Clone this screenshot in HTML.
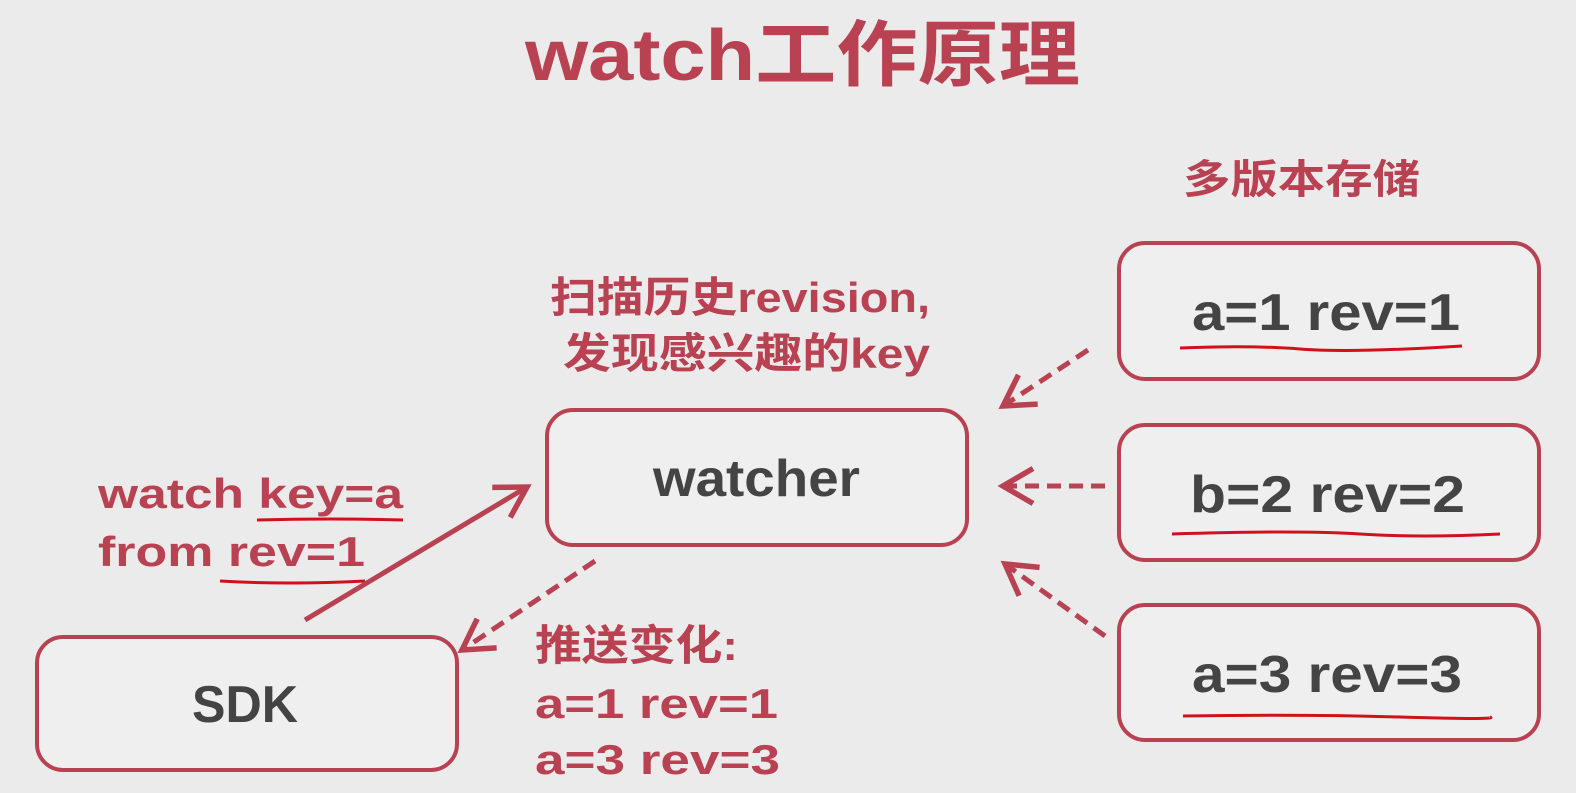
<!DOCTYPE html>
<html><head><meta charset="utf-8"><style>
html,body{margin:0;padding:0;background:#ebebeb;}
svg{display:block}
text{font-family:"Liberation Sans","Noto Sans CJK SC",sans-serif;font-weight:bold;}
</style></head><body>
<svg width="1576" height="793" viewBox="0 0 1576 793" xmlns="http://www.w3.org/2000/svg">
<defs>
<marker id="ah" markerWidth="10" markerHeight="10" refX="7" refY="5" orient="auto" markerUnits="strokeWidth">
<path d="M1,1.5 L7,5 L1,8.5" fill="none" stroke="#b94252" stroke-width="1.1"/>
</marker>
</defs>
<rect width="1576" height="793" fill="#ebebeb"/>
<text x="525" y="80" font-size="72" fill="#b94252" textLength="555" lengthAdjust="spacingAndGlyphs">watch工作原理</text>
<text x="1183" y="193" font-size="40" fill="#b94252" textLength="237" lengthAdjust="spacingAndGlyphs">多版本存储</text>
<text x="550" y="312" font-size="42" fill="#b94252" textLength="380" lengthAdjust="spacingAndGlyphs">扫描历史revision,</text>
<text x="563" y="368" font-size="42" fill="#b94252" textLength="367" lengthAdjust="spacingAndGlyphs">发现感兴趣的key</text>
<g fill="#efefef" stroke="#b94252" stroke-width="4">
<rect x="37" y="637" width="420" height="133" rx="26"/>
<rect x="547" y="410" width="420" height="135" rx="26"/>
<rect x="1119" y="243" width="420" height="136" rx="26"/>
<rect x="1119" y="425" width="420" height="135" rx="26"/>
<rect x="1119" y="605" width="420" height="135" rx="26"/>
</g>
<g fill="#444" font-size="52">
<text x="192" y="722" textLength="106" lengthAdjust="spacingAndGlyphs">SDK</text>
<text x="653" y="496" textLength="207" lengthAdjust="spacingAndGlyphs">watcher</text>
<text x="1192" y="330" textLength="268" lengthAdjust="spacingAndGlyphs">a=1 rev=1</text>
<text x="1190" y="512" textLength="275" lengthAdjust="spacingAndGlyphs">b=2 rev=2</text>
<text x="1192" y="692" textLength="270" lengthAdjust="spacingAndGlyphs">a=3 rev=3</text>
</g>
<g fill="none" stroke="#d0101c" stroke-width="3">
<path d="M1180,348 Q1250,345 1300,349 T1462,346"/>
<path d="M1172,534 Q1300,530 1360,534 T1500,534"/>
<path d="M1183,716 Q1300,714 1400,717 T1490,717"/>
<path d="M257,520 Q330,518 403,520"/>
<path d="M220,581 Q290,585 365,581"/>
</g>
<g fill="#b94252" font-size="42">
<text x="98" y="508" textLength="305" lengthAdjust="spacingAndGlyphs">watch key=a</text>
<text x="98" y="566" textLength="267" lengthAdjust="spacingAndGlyphs">from rev=1</text>
<text x="535" y="660" textLength="203" lengthAdjust="spacingAndGlyphs">推送变化:</text>
<text x="535" y="718" textLength="243" lengthAdjust="spacingAndGlyphs">a=1 rev=1</text>
<text x="535" y="774" textLength="245" lengthAdjust="spacingAndGlyphs">a=3 rev=3</text>
</g>
<g stroke="#b94252" stroke-width="5" fill="none">
<line x1="305" y1="620" x2="527" y2="487" marker-end="url(#ah)"/>
<g stroke-dasharray="14,8">
<line x1="595" y1="561" x2="462" y2="650" marker-end="url(#ah)"/>
<line x1="1088" y1="350" x2="1003" y2="406" marker-end="url(#ah)"/>
<line x1="1105" y1="486" x2="1003" y2="486" marker-end="url(#ah)"/>
<line x1="1105" y1="636" x2="1005" y2="564" marker-end="url(#ah)"/>
</g>
</g>
</svg>
</body></html>
